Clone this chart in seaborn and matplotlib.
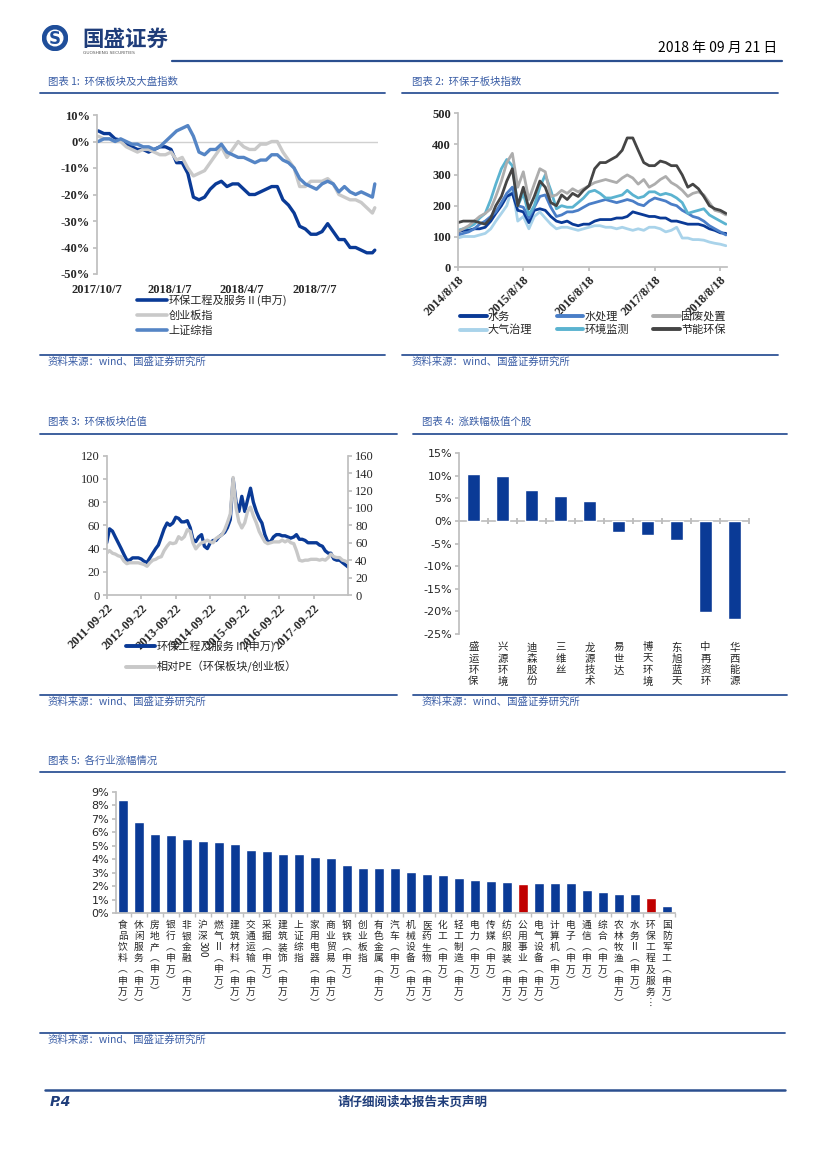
import matplotlib
matplotlib.use('Agg')
import matplotlib.pyplot as plt
from matplotlib.lines import Line2D
from matplotlib.patches import Circle
import seaborn as sns
import pandas as pd

# ---------------- data ----------------
# 图表1 环保板块及大盘指数 (周度, %)
dates1 = list(pd.date_range('2017-10-09', periods=50, freq='7D')) + [pd.Timestamp('2018-09-20')]
env1 = [4, 3, 3, 1, 0.5, -1, -2, -3, -3, -4, -3, -2, -2, -3, -8, -8, -12, -21, -22, -21,
        -18, -16, -15, -17, -16, -16, -18, -20, -20, -19, -18, -17, -17, -22, -24, -27, -32, -33, -35, -35,
        -34, -31, -34, -37, -37, -40, -40, -41, -42, -42, -41]
cyb1 = [2, 1, 1, 0, 0, -2, -3, -4, -3, -3, -4, -5, -5, -4, -7, -6, -10, -13, -12, -11,
        -8, -5, -2, -6, -3, 0, -2, -3, -3, -1, -1, 0, 0, -4, -7, -10, -17, -17, -15, -15,
        -15, -14, -16, -20, -21, -22, -22, -23, -25, -27, -25]
sh1 = [0, 1, 1, 0, 1, 0, -1, -1, -2, -2, -3, -2, 0, 2, 4, 5, 6, 2, -4, -5,
       -3, -3, -1, -4, -5, -6, -6, -7, -8, -7, -7, -5, -5, -7, -8, -10, -14, -16, -17, -18,
       -16, -15, -16, -19, -17, -19, -20, -19, -20, -21, -16]
names1 = ['环保工程及服务Ⅱ(申万)', '创业板指', '上证综指']

# 图表2 环保子板块指数 (月度)
dates2 = pd.date_range('2014-08-18', periods=50, freq=pd.DateOffset(months=1))
sw2 = [115, 120, 120, 125, 125, 130, 150, 175, 200, 230, 240, 185, 180, 145, 185, 190, 185, 165, 150, 145,
       150, 140, 135, 140, 140, 150, 155, 155, 155, 160, 160, 165, 180, 175, 170, 165, 165, 160, 160, 150,
       150, 145, 140, 140, 140, 135, 125, 120, 112, 110]
scl2 = [105, 110, 115, 125, 140, 150, 165, 180, 210, 240, 260, 200, 195, 160, 195, 230, 235, 195, 165, 170,
        180, 180, 185, 195, 205, 210, 215, 220, 215, 210, 215, 220, 215, 205, 200, 215, 225, 220, 215, 205,
        200, 185, 175, 165, 160, 150, 135, 125, 115, 105]
gf2 = [115, 125, 135, 150, 165, 175, 190, 230, 280, 340, 370, 260, 310, 220, 270, 320, 310, 230, 235, 250,
       240, 255, 245, 255, 265, 275, 280, 285, 280, 275, 290, 300, 290, 270, 285, 260, 270, 285, 295, 275,
       265, 250, 230, 240, 245, 235, 210, 185, 180, 170]
dq2 = [95, 100, 100, 100, 105, 110, 125, 150, 175, 200, 260, 150, 165, 125, 165, 180, 160, 140, 125, 130,
       130, 125, 120, 125, 130, 135, 135, 130, 130, 125, 130, 125, 120, 125, 120, 130, 130, 125, 115, 120,
       130, 95, 95, 90, 90, 88, 82, 78, 75, 70]
jc2 = [120, 125, 130, 140, 160, 175, 220, 270, 320, 350, 330, 200, 240, 170, 200, 260, 300, 250, 190, 200,
       195, 195, 210, 225, 245, 250, 240, 225, 225, 230, 235, 250, 235, 225, 230, 245, 245, 235, 240, 235,
       225, 210, 175, 180, 185, 190, 170, 160, 150, 140]
jn2 = [145, 150, 150, 150, 145, 140, 160, 200, 230, 280, 320, 200, 260, 190, 230, 280, 260, 210, 200, 235,
       220, 240, 230, 250, 265, 320, 340, 340, 350, 360, 380, 420, 420, 380, 340, 330, 330, 345, 340, 330,
       330, 300, 260, 270, 255, 230, 200, 190, 185, 175]
names2 = ['水务', '水处理', '固废处置', '大气治理', '环境监测', '节能环保']

# 图表3 环保板块估值 (月度)
dates3 = pd.date_range('2011-09-22', periods=85, freq=pd.DateOffset(months=1))
pe3 = [45, 57, 55, 50, 45, 40, 35, 30, 30, 32, 32, 32, 31, 29, 28, 32, 36, 40, 43, 50,
       57, 62, 60, 62, 67, 66, 63, 63, 64, 58, 48, 46, 50, 52, 42, 40, 45, 47, 47, 50,
       52, 54, 58, 65, 100, 80, 72, 85, 72, 82, 92, 80, 72, 66, 62, 52, 46, 46, 50, 52,
       52, 51, 51, 50, 49, 50, 52, 48, 48, 47, 45, 45, 45, 45, 43, 42, 38, 36, 36, 31,
       30, 30, 28, 26, 24]
rel3 = [48, 51, 48, 47, 45, 44, 39, 36, 37, 37, 37, 37, 36, 35, 33, 37, 40, 41, 43, 44,
        51, 56, 60, 59, 60, 67, 64, 67, 75, 73, 60, 53, 57, 60, 61, 63, 61, 60, 65, 67,
        69, 75, 83, 93, 135, 100, 84, 77, 83, 96, 101, 91, 83, 73, 67, 61, 59, 60, 61, 61,
        61, 63, 61, 63, 60, 59, 51, 40, 39, 40, 40, 41, 41, 41, 40, 41, 40, 43, 47, 44,
        43, 43, 40, 39, 37]
names3 = ['环保工程及服务Ⅱ(申万)', '相对PE（环保板块/创业板）']

# 图表4 涨跌幅极值个股 (%)
stocks4 = ['盛运环保', '兴源环境', '迪森股份', '三维丝', '龙源技术', '易世达', '博天环境', '东旭蓝天', '中再资环', '华西能源']
chg4 = [10.5, 9.9, 6.9, 5.5, 4.4, -2.4, -3.1, -4.3, -20.1, -21.7]

# 图表5 各行业涨幅情况 (%)
inds5 = ['食品饮料(申万)', '休闲服务(申万)', '房地产(申万)', '银行(申万)', '非银金融(申万)', '沪深300',
         '燃气Ⅱ(申万)', '建筑材料(申万)', '交通运输(申万)', '采掘(申万)', '建筑装饰(申万)', '上证综指',
         '家用电器(申万)', '商业贸易(申万)', '钢铁(申万)', '创业板指', '有色金属(申万)', '汽车(申万)',
         '机械设备(申万)', '医药生物(申万)', '化工(申万)', '轻工制造(申万)', '电力(申万)', '传媒(申万)',
         '纺织服装(申万)', '公用事业(申万)', '电气设备(申万)', '计算机(申万)', '电子(申万)', '通信(申万)',
         '综合(申万)', '农林牧渔(申万)', '水务Ⅱ(申万)', '环保工程及服务…', '国防军工(申万)']
chg5 = [8.37, 6.77, 5.91, 5.79, 5.52, 5.32, 5.27, 5.12, 4.70, 4.58, 4.41, 4.41, 4.16, 4.06, 3.55,
        3.37, 3.37, 3.37, 3.03, 2.92, 2.84, 2.60, 2.44, 2.40, 2.30, 2.15, 2.22, 2.20, 2.20, 1.73,
        1.53, 1.41, 1.41, 1.11, 0.49]
highlight5 = ['公用事业(申万)', '环保工程及服务…']

# ---------------- style ----------------
sns.set_theme(style='white')
plt.rcParams['font.family'] = ['Noto Sans CJK SC', 'DejaVu Sans']
plt.rcParams['axes.unicode_minus'] = False

W, H = 827, 1169
SERIF = ['Liberation Serif', 'Noto Sans CJK SC']
CJK = ['Noto Sans CJK SC', 'DejaVu Sans']
SANS = ['DejaVu Sans', 'Noto Sans CJK SC']
DARK = '#0A3A96'
RED = '#C00000'
AXC = '#BFBFBF'
TXT = '#262626'
RULE = '#2F5496'
CAP = '#3B5EA6'

fig = plt.figure(figsize=(W / 100, H / 100), dpi=100)
fig.patch.set_facecolor('white')


def add_ax(l, t, r, b):
    return fig.add_axes([l / W, 1 - b / H, (r - l) / W, (b - t) / H])


def ftext(x, y, s, **kw):
    fig.text(x / W, 1 - y / H, s, **kw)


def hline(x0, x1, y, lw=1.3, c=RULE):
    fig.add_artist(Line2D([x0 / W, x1 / W], [1 - y / H, 1 - y / H], lw=lw, color=c))


def style_axes(ax, left=True):
    for s in ['top', 'right', 'bottom', 'left']:
        ax.spines[s].set_visible(False)
    if left:
        ax.spines['left'].set_visible(True)
        ax.spines['left'].set_color(AXC)
    ax.tick_params(axis='y', left=left, direction='out', length=3, color=AXC, pad=2)
    ax.set_xlabel('')
    ax.set_ylabel('')


VMAP = {'(': '︵', ')': '︶', '…': '︙'}


def vert(s):
    if s == '沪深300':
        return '沪\n深'
    return '\n'.join(VMAP.get(c, c) for c in s)


# ---------------- header / footer ----------------
lax = add_ax(42, 25, 68, 51)
lax.set_xlim(0, 1)
lax.set_ylim(0, 1)
lax.axis('off')
lax.add_patch(Circle((0.5, 0.5), 0.48, color='#1F4E9A'))
lax.add_patch(Circle((0.5, 0.5), 0.30, color='white'))
lax.text(0.5, 0.47, 'S', ha='center', va='center', fontsize=12, fontweight='bold', color='#1F4E9A',
         family=SANS)
ftext(82, 39, '国盛证券', fontsize=15.5, fontweight='bold', color='#1F3D7A', va='center', family=CJK)
ftext(83, 52.5, 'GUOSHENG SECURITIES', fontsize=3.2, color='#555555', va='center', family=SANS)
ftext(777, 48, '2018 年 09 月 21 日', fontsize=10, color='black', ha='right', va='center', family=CJK)
hline(172, 782, 60.5, lw=1.6, c='#2B4F8F')

hline(45, 785, 1090, lw=1.8, c='#2B4F8F')
ftext(50, 1102, 'P.4', fontsize=10, fontweight='bold', style='oblique', color='#1F3D7A', va='center',
      family=['DejaVu Sans'])
ftext(413, 1102, '请仔细阅读本报告末页声明', fontsize=9, fontweight='bold', color='#1F3D7A',
      ha='center', va='center', family=CJK)

# section titles, rules and sources
sections = [
    (48, 82, 40, 385, 93, 355, '图表 1:  环保板块及大盘指数'),
    (412, 82, 402, 778, 93, 355, '图表 2:  环保子板块指数'),
    (48, 422, 40, 397, 434, 695, '图表 3:  环保板块估值'),
    (422, 422, 413, 787, 434, 695, '图表 4:  涨跌幅极值个股'),
    (48, 761, 40, 785, 772, 1033, '图表 5:  各行业涨幅情况'),
]
for tx, ty, x0, x1, ly, sy, title in sections:
    ftext(tx, ty, title, fontsize=7.5, style='italic', color=CAP, va='center', family=CJK)
    hline(x0, x1, ly)
    hline(x0, x1, sy)
    ftext(tx, sy + 7, '资料来源：wind、国盛证券研究所', fontsize=7.5, style='italic', color=CAP,
          va='center', family=CJK)

# ---------------- chart 1 ----------------
df1 = pd.DataFrame({'date': dates1, names1[0]: env1, names1[1]: cyb1, names1[2]: sh1})
long1 = df1.melt('date', var_name='series', value_name='pct')
pal1 = [DARK, '#C9C9C9', '#5585C5']
ax1 = add_ax(96.7, 115, 378, 274)
sns.lineplot(data=long1, x='date', y='pct', hue='series', hue_order=names1, palette=pal1,
             linewidth=2.4, legend=False, ax=ax1)
ax1.set_ylim(-50, 10)
ax1.set_xlim(pd.Timestamp('2017-10-07'), pd.Timestamp('2018-09-24'))
ax1.set_yticks(range(-50, 11, 10))
ax1.set_yticklabels([f'{v}%' for v in range(-50, 11, 10)], fontsize=9, fontweight='bold',
                    family=SERIF, color=TXT)
ticks1 = pd.to_datetime(['2017-10-07', '2018-01-07', '2018-04-07', '2018-07-07'])
ax1.set_xticks(ticks1)
ax1.set_xticklabels(['2017/10/7', '2018/1/7', '2018/4/7', '2018/7/7'], fontsize=9,
                    fontweight='bold', family=SERIF, color=TXT)
style_axes(ax1)
ax1.tick_params(axis='x', bottom=True, length=0, pad=7)
ax1.axhline(0, color='#D0D0D0', lw=1, zorder=0)

h1 = [Line2D([], [], color=c, lw=2.6) for c in pal1]
fig.legend(h1, names1, loc='upper left', bbox_to_anchor=(137 / W, 1 - 294 / H), frameon=False,
           handlelength=2.7, handletextpad=0.15, labelspacing=0.42, borderpad=0,
           borderaxespad=0, prop={'family': CJK, 'size': 8})

# ---------------- chart 2 ----------------
df2 = pd.DataFrame({'date': dates2, '水务': sw2, '水处理': scl2, '固废处置': gf2,
                    '大气治理': dq2, '环境监测': jc2, '节能环保': jn2})
long2 = df2.melt('date', var_name='series', value_name='idx')
pal2 = {'水务': DARK, '水处理': '#4A7EC7', '固废处置': '#ADADAD',
        '大气治理': '#A9D3EA', '环境监测': '#5BB3D0', '节能环保': '#454545'}
draw_order2 = ['大气治理', '水务', '水处理', '环境监测', '固废处置', '节能环保']
ax2 = add_ax(457.7, 113.3, 727, 267.3)
sns.lineplot(data=long2, x='date', y='idx', hue='series', hue_order=draw_order2, palette=pal2,
             linewidth=2.0, legend=False, ax=ax2)
ax2.set_ylim(0, 500)
ax2.set_xlim(pd.Timestamp('2014-08-18'), pd.Timestamp('2018-09-24'))
ax2.set_yticks(range(0, 501, 100))
ax2.set_yticklabels([str(v) for v in range(0, 501, 100)], fontsize=9, fontweight='bold',
                    family=SERIF, color=TXT)
ticks2 = pd.to_datetime(['2014-08-18', '2015-08-18', '2016-08-18', '2017-08-18', '2018-08-18'])
ax2.set_xticks(ticks2)
ax2.set_xticklabels(['2014/8/18', '2015/8/18', '2016/8/18', '2017/8/18', '2018/8/18'],
                    rotation=45, ha='right', va='top', rotation_mode='anchor', fontsize=9,
                    fontweight='bold', family=SERIF, color=TXT)
style_axes(ax2)
ax2.spines['bottom'].set_visible(True)
ax2.spines['bottom'].set_color(AXC)
ax2.tick_params(axis='x', bottom=True, direction='out', length=3, color=AXC, pad=2)

leg_order2 = ['水务', '大气治理', '水处理', '环境监测', '固废处置', '节能环保']
h2 = [Line2D([], [], color=pal2[n], lw=2.8) for n in leg_order2]
fig.legend(h2, leg_order2, loc='upper left', bbox_to_anchor=(460 / W, 1 - 311 / H), ncol=3,
           frameon=False, handlelength=2.4, handletextpad=0.1, labelspacing=0.3,
           columnspacing=2.2, borderpad=0, borderaxespad=0, prop={'family': CJK, 'size': 8})

# ---------------- chart 3 ----------------
ax3 = add_ax(106.7, 455.7, 348.3, 595)
sns.lineplot(x=dates3, y=pe3, color=DARK, linewidth=2.4, ax=ax3)
ax3r = ax3.twinx()
sns.lineplot(x=dates3, y=rel3, color='#C8C8C8', linewidth=2.4, ax=ax3r)
ax3.set_ylim(0, 120)
ax3r.set_ylim(0, 160)
ax3.set_xlim(pd.Timestamp('2011-09-22'), pd.Timestamp('2018-09-22'))
ax3.set_yticks(range(0, 121, 20))
ax3.set_yticklabels([str(v) for v in range(0, 121, 20)], fontsize=9, family=SERIF, color=TXT)
ax3r.set_yticks(range(0, 161, 20))
ax3r.set_yticklabels([str(v) for v in range(0, 161, 20)], fontsize=9, family=SERIF, color=TXT)
ticks3 = pd.to_datetime([f'{y}-09-22' for y in range(2011, 2018)])
ax3.set_xticks(ticks3)
ax3.set_xticklabels([f'{y}-09-22' for y in range(2011, 2018)], rotation=45, ha='right', va='top',
                    rotation_mode='anchor', fontsize=9, fontweight='bold', family=SERIF, color=TXT)
style_axes(ax3)
ax3.spines['bottom'].set_visible(True)
ax3.spines['bottom'].set_color(AXC)
ax3.tick_params(axis='x', bottom=True, direction='out', length=3, color=AXC, pad=2)
for s in ['top', 'left', 'bottom']:
    ax3r.spines[s].set_visible(False)
ax3r.spines['right'].set_visible(True)
ax3r.spines['right'].set_color(AXC)
ax3r.tick_params(axis='y', right=True, direction='out', length=3, color=AXC, pad=2)
ax3r.set_ylabel('')

h3 = [Line2D([], [], color=DARK, lw=2.8), Line2D([], [], color='#C8C8C8', lw=2.8)]
fig.legend(h3, names3, loc='upper left', bbox_to_anchor=(126 / W, 1 - 640 / H), frameon=False,
           handlelength=2.6, handletextpad=0.15, labelspacing=0.85, borderpad=0, borderaxespad=0,
           prop={'family': CJK, 'size': 8})

# ---------------- chart 4 ----------------
ax4 = add_ax(459, 453.3, 749, 634)
sns.barplot(x=stocks4, y=chg4, color=DARK, saturation=1, width=0.42, ax=ax4)
ax4.set_ylim(-25, 15)
ax4.set_xlim(-0.5, 9.5)
ax4.set_yticks(range(-25, 16, 5))
ax4.set_yticklabels([f'{v}%' for v in range(-25, 16, 5)], fontsize=8, family=SANS, color=TXT)
ax4.set_xticks(range(len(stocks4)))
ax4.set_xticklabels([vert(s) for s in stocks4], fontsize=7.5, family=CJK, color=TXT,
                    va='top', linespacing=1.15)
style_axes(ax4)
ax4.tick_params(axis='x', bottom=True, length=0, pad=6)
sec4 = ax4.secondary_xaxis(25 / 40)
sec4.set_xticks([i + 0.5 for i in range(len(stocks4))])
sec4.set_xticklabels([])
sec4.tick_params(axis='x', direction='inout', length=5, color=AXC, top=True, bottom=True)
for sp in sec4.spines.values():
    sp.set_color(AXC)

# ---------------- chart 5 ----------------
ax5 = add_ax(116, 792, 675, 913)
pal5 = {n: (RED if n in highlight5 else DARK) for n in inds5}
sns.barplot(x=inds5, y=chg5, hue=inds5, palette=pal5, legend=False, saturation=1, width=0.62,
            ax=ax5)
ax5.set_ylim(0, 9)
ax5.set_xlim(-0.42, len(inds5) - 0.48)
ax5.set_yticks(range(0, 10))
ax5.set_yticklabels([f'{v}%' for v in range(0, 10)], fontsize=8, family=SANS, color=TXT)
ax5.set_xticks(range(len(inds5)))
ax5.set_xticklabels([vert(s) for s in inds5], fontsize=7, family=CJK, color=TXT, va='top',
                    linespacing=1.14)
ax5.set_xticks([i + 0.5 for i in range(len(inds5))], minor=True)
style_axes(ax5)
ax5.spines['bottom'].set_visible(True)
ax5.spines['bottom'].set_color(AXC)
ax5.tick_params(axis='x', which='major', bottom=True, length=0, pad=5)
ax5.tick_params(axis='x', which='minor', bottom=True, length=3, color=AXC, direction='out')
i300 = inds5.index('沪深300')
ax5.annotate('300', xy=(i300, 0), xycoords='data', xytext=(0, -20.5), textcoords='offset points',
             rotation=-90, ha='center', va='top', fontsize=7, family=CJK, color=TXT)

fig.savefig('out.png', dpi=100, facecolor='white')
